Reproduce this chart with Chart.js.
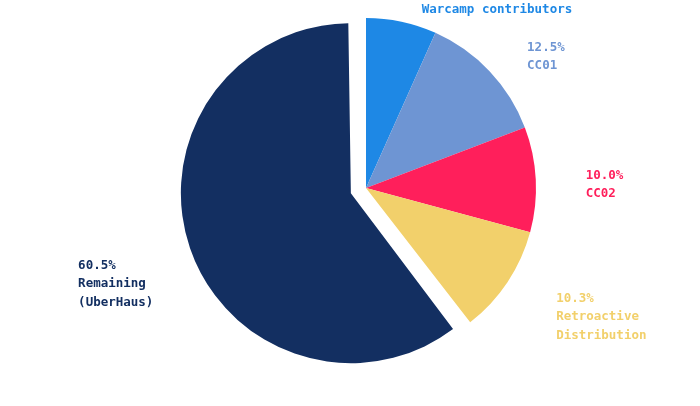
<!DOCTYPE html>
<html>
<head>
<meta charset="utf-8">
<script src="https://cdn.jsdelivr.net/npm/chart.js@4"></script>
<style>
  html, body { margin: 0; padding: 0; background: #fff; }
  #wrap { width: 700px; height: 406px; }
</style>
</head>
<body>
<div id="wrap"><canvas id="pieChart" width="700" height="406"></canvas></div>
<script>
// chart data
const categories = ['Warcamp contributors', 'CC01', 'CC02', 'Retroactive Distribution', 'Remaining (UberHaus)'];
const shares = [6.7, 12.5, 10.0, 10.3, 60.5];
const labelLines = [
    ['6.7%', 'Warcamp contributors'],
    ['12.5%', 'CC01'],
    ['10.0%', 'CC02'],
    ['10.3%', 'Retroactive', 'Distribution'],
    ['60.5%', 'Remaining', '(UberHaus)']
];
const sliceColors = ['#1e88e5', '#6e95d3', '#ff1f5b', '#f2d06b', '#132f61'];
const textColors = ['#1e88e5', '#6e95d3', '#ff1f5b', '#f2d06b', '#132f61'];

// chart.js v4 grows an offset arc by offset / 4 as well as moving it;
// keep the exploded slice at the same radius as the others
const keepRadius = {
    id: 'keepRadius',
    afterDatasetUpdate(chart, args) {
        args.meta.data.forEach(arc => {
            const off = (arc.options.offset || 0) / 4;
            arc.outerRadius -= off;
        });
    }
};

// labels placed outside each slice, starting from the slice mid-angle
const outsideLabels = {
    id: 'outsideLabels',
    afterDatasetsDraw(chart, args, opts) {
        const ctx = chart.ctx;
        const meta = chart.getDatasetMeta(0);
        ctx.save();
        ctx.font = opts.font;
        ctx.textBaseline = 'middle';
        ctx.textAlign = 'left';
        meta.data.forEach((arc, i) => {
            const p = arc.getProps(['x', 'y', 'startAngle', 'endAngle', 'outerRadius']);
            const mid = (p.startAngle + p.endAngle) / 2;
            const off = (arc.options.offset || 0) / 4;
            const cx = p.x + Math.cos(mid) * off;
            const cy = p.y + Math.sin(mid) * off;
            // drawn radius is outerRadius + off
            const r = p.outerRadius + off + opts.gap;
            const nudge = opts.nudges[i];
            const x = cx + Math.cos(mid) * r + nudge[0];
            const y = cy + Math.sin(mid) * r + nudge[1];
            ctx.fillStyle = textColors[i];
            labelLines[i].forEach((line, j) => {
                ctx.fillText(line, x, y + j * opts.lineHeight);
            });
        });
        ctx.restore();
    }
};

const ctx = document.getElementById('pieChart').getContext('2d');
new Chart(ctx, {
    type: 'pie',
    data: {
        labels: categories,
        datasets: [{
            data: shares,
            backgroundColor: sliceColors,
            borderWidth: 0,
            offset: [0, 0, 0, 0, 64]
        }]
    },
    options: {
        responsive: false,
        animation: false,
        radius: 170,
        layout: { padding: { top: 0, bottom: 30, left: 32, right: 0 } },
        plugins: {
            legend: { display: false },
            tooltip: { enabled: false },
            outsideLabels: {
                font: 'bold 12.5px "DejaVu Sans Mono", monospace',
                lineHeight: 18.5,
                gap: 20,
                nudges: [[16, -11], [23, -10], [30, -3], [32, 5], [-93, 11]]
            }
        }
    },
    plugins: [keepRadius, outsideLabels]
});
</script>
</body>
</html>
